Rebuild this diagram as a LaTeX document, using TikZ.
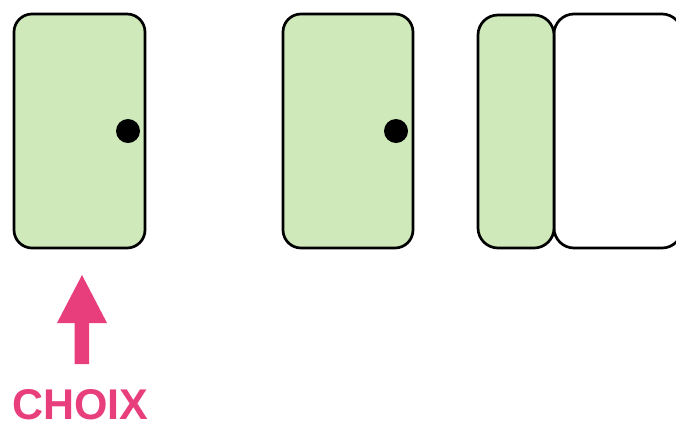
\documentclass[tikz,border=0pt]{standalone}
\usepackage{fontspec}
\setmainfont{Liberation Sans}
\definecolor{doorgreen}{HTML}{CFE9BA}
\definecolor{choixpink}{HTML}{E83E7C}
\begin{document}
\begin{tikzpicture}[x=1pt,y=-1pt,
  door/.style={draw=black,line width=2.7pt,fill=doorgreen,rounded corners=18pt},
  opening/.style={draw=black,line width=2.7pt,fill=white,rounded corners=20pt},
  knob/.style={fill=black}]
\useasboundingbox (0,0) rectangle (676,424);
\begin{scope}
\clip (0,0) rectangle (676,424);
\path[door] (14,14) rectangle (145,248);
\fill[knob] (128,131) circle (12);
\path[door] (283,14) rectangle (413,248);
\fill[knob] (396,131) circle (12);
\path[opening] (554,14) rectangle (682,248);
\path[door,rounded corners=20pt] (478,15) rectangle (554,248);
\end{scope}
\fill[choixpink] (74.5,364) -- (74.5,323) -- (57,323) -- (82,275) -- (107,323) -- (89,323) -- (89,364) -- cycle;
\node[anchor=base,inner sep=0pt,text depth=0pt,text=choixpink,font=\fontsize{43}{43}\selectfont\bfseries] (choix) at (80.5,419) {CHOIX};
\end{tikzpicture}
\end{document}
